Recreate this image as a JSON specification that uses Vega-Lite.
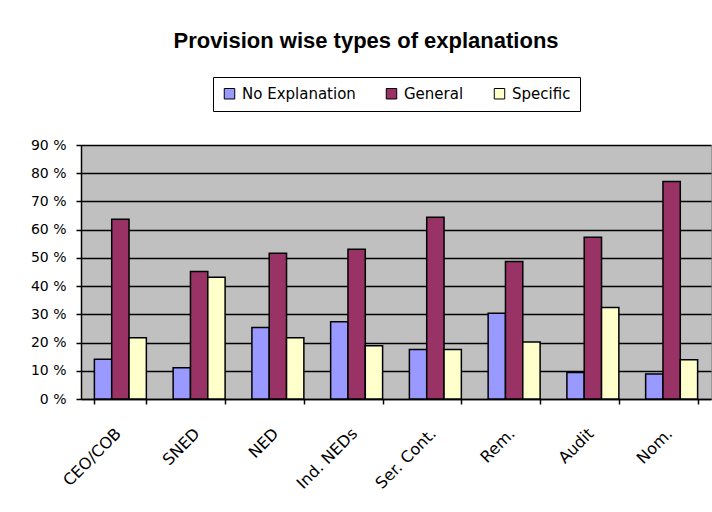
{
  "$schema": "https://vega.github.io/schema/vega-lite/v6.json",
  "autosize": "none",
  "width": 630,
  "height": 254,
  "padding": {"left": 81, "top": 145, "right": 1, "bottom": 113},
  "background": "white",
  "title": {
    "text": "Provision wise types of explanations",
    "font": "Liberation Sans",
    "fontSize": 22,
    "fontWeight": "bold",
    "color": "#000",
    "anchor": "middle",
    "dx": -30,
    "baseline": "alphabetic",
    "offset": 7
  },
  "data": {
    "values": [
      {"cat": "CEO/COB", "type": "No Explanation", "value": 14.1},
      {"cat": "CEO/COB", "type": "General", "value": 63.7},
      {"cat": "CEO/COB", "type": "Specific", "value": 21.7},
      {"cat": "SNED", "type": "No Explanation", "value": 11.1},
      {"cat": "SNED", "type": "General", "value": 45.2},
      {"cat": "SNED", "type": "Specific", "value": 43.1},
      {"cat": "NED", "type": "No Explanation", "value": 25.3},
      {"cat": "NED", "type": "General", "value": 51.6},
      {"cat": "NED", "type": "Specific", "value": 21.7},
      {"cat": "Ind. NEDs", "type": "No Explanation", "value": 27.4},
      {"cat": "Ind. NEDs", "type": "General", "value": 53.1},
      {"cat": "Ind. NEDs", "type": "Specific", "value": 18.9},
      {"cat": "Ser. Cont.", "type": "No Explanation", "value": 17.5},
      {"cat": "Ser. Cont.", "type": "General", "value": 64.4},
      {"cat": "Ser. Cont.", "type": "Specific", "value": 17.5},
      {"cat": "Rem.", "type": "No Explanation", "value": 30.4},
      {"cat": "Rem.", "type": "General", "value": 48.7},
      {"cat": "Rem.", "type": "Specific", "value": 20.2},
      {"cat": "Audit", "type": "No Explanation", "value": 9.4},
      {"cat": "Audit", "type": "General", "value": 57.3},
      {"cat": "Audit", "type": "Specific", "value": 32.4},
      {"cat": "Nom.", "type": "No Explanation", "value": 8.9},
      {"cat": "Nom.", "type": "General", "value": 77.1},
      {"cat": "Nom.", "type": "Specific", "value": 13.9}
    ]
  },
  "mark": {"type": "bar", "stroke": "#000", "strokeWidth": 1.5},
  "encoding": {
    "x": {
      "field": "cat",
      "type": "nominal",
      "sort": ["CEO/COB", "SNED", "NED", "Ind. NEDs", "Ser. Cont.", "Rem.", "Audit", "Nom."],
      "scale": {"paddingInner": 0.34, "paddingOuter": 0.17},
      "axis": {
        "title": null,
        "labelAngle": -45,
        "labelAlign": "right",
        "labelBaseline": "top",
        "labelFont": "DejaVu Sans",
        "labelFontSize": 16,
        "labelColor": "#000",
        "labelPadding": 21,
        "labelOffset": -8,
        "tickBand": "extent",
        "tickColor": "#000",
        "tickSize": 5,
        "tickWidth": 1.5,
        "domainColor": "#000",
        "domainWidth": 1.5,
        "grid": false
      }
    },
    "xOffset": {
      "field": "type",
      "type": "nominal",
      "sort": ["No Explanation", "General", "Specific"],
      "scale": {"paddingInner": 0, "paddingOuter": 0}
    },
    "y": {
      "field": "value",
      "type": "quantitative",
      "scale": {"domain": [0, 90], "nice": false},
      "axis": {
        "title": null,
        "values": [0, 10, 20, 30, 40, 50, 60, 70, 80, 90],
        "labelExpr": "datum.value + ' %'",
        "labelFont": "DejaVu Sans",
        "labelFontSize": 14,
        "labelColor": "#000",
        "labelPadding": 10,
        "tickColor": "#000",
        "tickSize": 5,
        "tickWidth": 1.5,
        "domainColor": "#000",
        "domainWidth": 1.5,
        "grid": true,
        "gridColor": "#000",
        "gridWidth": 1.5
      }
    },
    "fill": {
      "field": "type",
      "type": "nominal",
      "sort": ["No Explanation", "General", "Specific"],
      "scale": {
        "domain": ["No Explanation", "General", "Specific"],
        "range": ["#9999FF", "#993366", "#FFFFCC"]
      },
      "legend": {
        "title": null,
        "orient": "none",
        "legendX": 132,
        "legendY": -68,
        "direction": "horizontal",
        "strokeColor": "#000",
        "padding": 9,
        "symbolType": "square",
        "symbolSize": 110,
        "symbolStrokeColor": "#000",
        "symbolStrokeWidth": 1,
        "labelFont": "DejaVu Sans",
        "labelFontSize": 15,
        "labelColor": "#000",
        "labelOffset": 5,
        "columnPadding": 28
      }
    }
  },
  "config": {
    "view": {"fill": "#C0C0C0", "stroke": "#999", "strokeWidth": 1}
  }
}
